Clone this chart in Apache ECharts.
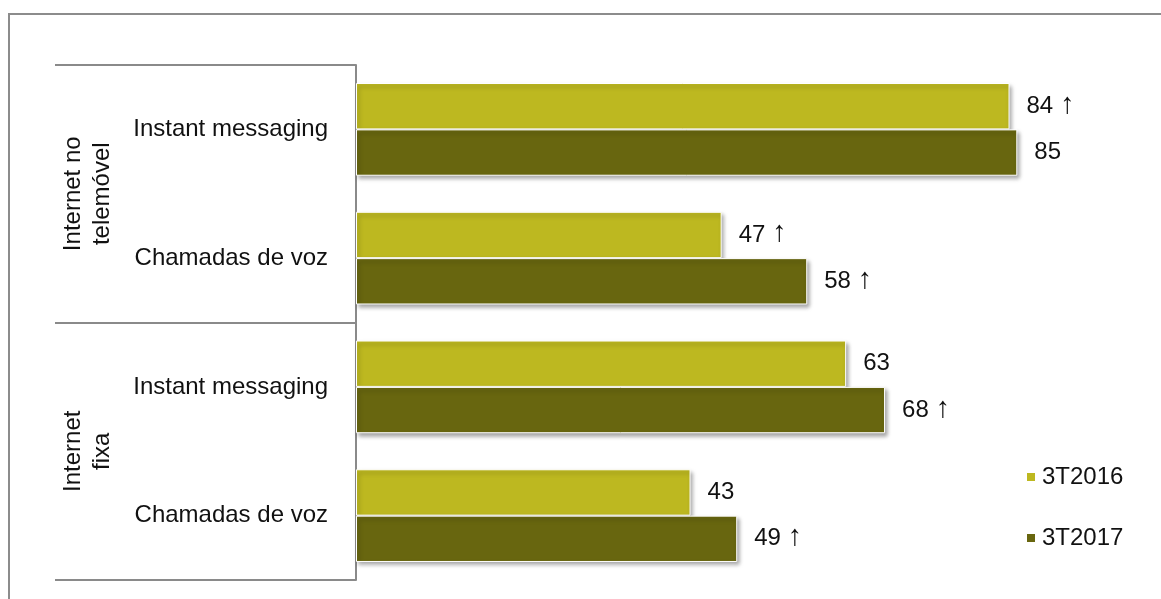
<!DOCTYPE html>
<html>
<head>
<meta charset="utf-8">
<script src="https://cdn.jsdelivr.net/npm/echarts@6/dist/echarts.min.js"></script>
<style>
  html, body { margin: 0; padding: 0; background: #fff; overflow: hidden; }
  #frame {
    position: absolute; left: 8px; top: 13px; width: 1300px; height: 700px;
    border-left: 2px solid #8c8c8c; border-top: 2px solid #8c8c8c;
  }
  #chart { position: absolute; left: 0; top: 0; width: 1161px; height: 599px; }
</style>
</head>
<body>
<div id="frame"></div>
<div id="chart"></div>
<script>
// Usage categories, grouped by type of internet access
const categories = ['Instant messaging', 'Chamadas de voz', 'Instant messaging', 'Chamadas de voz'];
const groups = ['Internet no\ntelemóvel', 'Internet\nfixa'];
const seriesNames = ['3T2016', '3T2017'];

// Percentages per category
const values2016 = [84, 47, 63, 43];
const values2017 = [85, 58, 68, 49];

// Whether the value is marked with an upward arrow
const up2016 = [true, true, false, false];
const up2017 = [false, true, true, true];

const colors = ['#BDB820', '#68660F'];
const font = "'Liberation Sans', Arial, sans-serif";

function labelFor(flags) {
  return function (p) { return p.value + (flags[p.dataIndex] ? ' {arrow|\u2191}' : ''); };
}

const chart = echarts.init(document.getElementById('chart'), null, { renderer: 'canvas' });

const barCommon = {
  type: 'bar',
  yAxisIndex: 0,
  barGap: '0%',
  barCategoryGap: '28%',
  label: {
    show: true, position: 'right', distance: 17,
    fontSize: 24, color: '#111', fontFamily: font,
    rich: {
      arrow: { fontSize: 29, color: '#111', fontFamily: font, padding: [0, 0, 3, 0] }
    }
  }
};

chart.setOption({
  animation: false,
  textStyle: { fontFamily: font },
  grid: { left: 356, top: 65, width: 778, height: 515, containLabel: false },
  legend: {
    orient: 'vertical', left: 1025, top: 465, padding: 0,
    itemWidth: 10, itemHeight: 10, itemGap: 37,
    icon: 'rect',
    textStyle: { fontSize: 24, color: '#111', fontFamily: font, padding: [0, 0, 0, 1] },
    data: seriesNames
  },
  xAxis: {
    type: 'value', min: 0, max: 100, show: false,
    splitLine: { show: false }
  },
  yAxis: [
    {
      type: 'category', data: categories, inverse: true,
      axisLine: { show: true, lineStyle: { color: '#8a8a8a', width: 2 } },
      axisTick: { show: false },
      axisLabel: { fontSize: 24, color: '#111', margin: 28, fontFamily: font }
    },
    {
      type: 'category', data: groups, inverse: true, position: 'left',
      axisLine: { show: false },
      axisTick: { show: true, length: 301, lineStyle: { color: '#8a8a8a', width: 2 } },
      axisLabel: { rotate: 90, fontSize: 24, color: '#111', margin: 239, lineHeight: 29, fontFamily: font },
      splitLine: { show: false }
    }
  ],
  series: [
    Object.assign({}, barCommon, {
      name: seriesNames[0], data: values2016,
      itemStyle: {
        color: colors[0], borderColor: '#fff', borderWidth: 1,
        shadowBlur: 4, shadowOffsetX: 2, shadowOffsetY: 3, shadowColor: 'rgba(0,0,0,0.35)'
      },
      label: Object.assign({}, barCommon.label, { formatter: labelFor(up2016) })
    }),
    Object.assign({}, barCommon, {
      name: seriesNames[1], data: values2017,
      itemStyle: {
        color: colors[1], borderColor: '#fff', borderWidth: 1,
        shadowBlur: 4, shadowOffsetX: 2, shadowOffsetY: 3, shadowColor: 'rgba(0,0,0,0.35)'
      },
      label: Object.assign({}, barCommon.label, { formatter: labelFor(up2017) })
    })
  ]
});
</script>
</body>
</html>
